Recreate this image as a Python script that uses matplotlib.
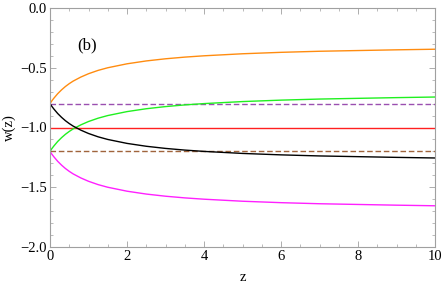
import matplotlib
matplotlib.use("Agg")
import matplotlib.pyplot as plt
from matplotlib.ticker import MultipleLocator

z = [0, 0.05, 0.1, 0.2, 0.3, 0.4, 0.5, 0.6, 0.8, 1, 1.25, 1.5, 2, 2.5, 3, 3.5, 4, 5, 6, 7, 8, 9, 10]
w_orange = [-0.80, -0.776, -0.755, -0.717, -0.685, -0.657, -0.633, -0.612, -0.578, -0.55, -0.522, -0.50,
            -0.467, -0.443, -0.425, -0.411, -0.40, -0.383, -0.371, -0.362, -0.356, -0.35, -0.345]
w_green = [-1.20, -1.176, -1.155, -1.117, -1.085, -1.057, -1.033, -1.012, -0.978, -0.95, -0.922, -0.90,
           -0.867, -0.843, -0.825, -0.811, -0.80, -0.783, -0.771, -0.762, -0.756, -0.75, -0.745]
w_black = [-0.80, -0.824, -0.845, -0.883, -0.915, -0.943, -0.967, -0.988, -1.022, -1.05, -1.078, -1.10,
           -1.133, -1.157, -1.175, -1.189, -1.20, -1.217, -1.229, -1.238, -1.244, -1.25, -1.255]
w_magenta = [-1.20, -1.224, -1.245, -1.283, -1.315, -1.343, -1.367, -1.388, -1.422, -1.45, -1.478, -1.50,
             -1.533, -1.557, -1.575, -1.589, -1.60, -1.617, -1.629, -1.638, -1.644, -1.65, -1.655]
w_red = -1.0
w_purple = -0.8
w_brown = -1.2

plt.rcParams['font.family'] = ['Liberation Serif', 'DejaVu Serif']

fig = plt.figure(figsize=(4.43, 2.85), dpi=100)
ax = fig.add_axes([50/443, 1-247/285, 385/443, 239/285])

lw = 1.0
ax.axhline(w_red, color='#ff2020', lw=lw)
ax.axhline(w_purple, color='#9a4fb0', lw=lw, ls=(0, (4, 2)))
ax.axhline(w_brown, color='#a0643c', lw=lw, ls=(0, (4, 2)))
ax.plot(z, w_orange, color='#ff8c10', lw=lw)
ax.plot(z, w_green, color='#20f020', lw=lw)
ax.plot(z, w_black, color='black', lw=lw)
ax.plot(z, w_magenta, color='#ff20ff', lw=lw)

ax.set_xlim(0, 10)
ax.set_ylim(-2.0, 0.0)
ax.xaxis.set_major_locator(MultipleLocator(2))
ax.xaxis.set_minor_locator(MultipleLocator(0.5))
ax.yaxis.set_major_locator(MultipleLocator(0.5))
ax.yaxis.set_minor_locator(MultipleLocator(0.1))
ax.yaxis.set_major_formatter(matplotlib.ticker.FuncFormatter(lambda v, p: ('%.1f' % v).replace('-', '\u2212')))

for s in ax.spines.values():
    s.set_color('#a0a0a0')
    s.set_linewidth(0.8)
ax.tick_params(which='both', direction='in', top=True, right=True, color='#a0a0a0', labelsize=10.5, pad=2)
ax.tick_params(which='major', length=4, width=0.6)
ax.tick_params(which='minor', length=2, width=0.5)

ax.set_xlabel('z', fontsize=10.5, labelpad=6)
ax.set_ylabel('w(z)', fontsize=10.5, labelpad=3)
ax.text(0.97, -0.314, '(b)', fontsize=12, ha='center', va='center')

fig.savefig('out.png', dpi=100)
